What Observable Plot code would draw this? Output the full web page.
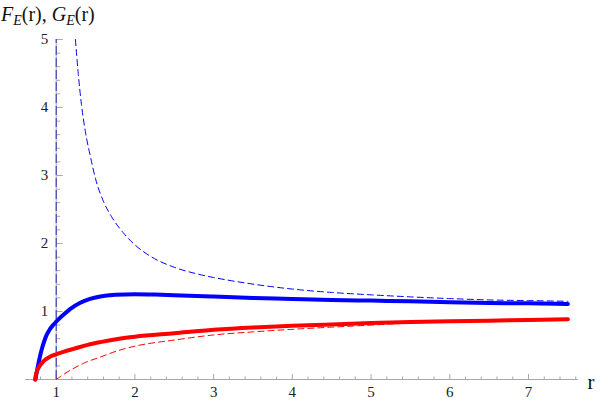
<!DOCTYPE html>
<html>
<head>
<meta charset="utf-8">
<script src="https://cdn.jsdelivr.net/npm/d3@7"></script>
<script src="https://cdn.jsdelivr.net/npm/@observablehq/plot@0.6"></script>
<style>
  html, body { margin: 0; padding: 0; background: #fff; }
  #chart { position: relative; width: 600px; height: 403px; }
</style>
</head>
<body>
<div id="chart"></div>
<script>
// ---- data ----
const gSolidR = [0.735, 0.76, 0.79, 0.82, 0.85, 0.88, 0.92, 0.96, 1.0, 1.08, 1.18, 1.3, 1.43, 1.56, 1.75, 2.0, 2.25, 2.5, 3.0, 3.5, 4.0, 4.5, 5.0, 5.5, 6.0, 6.5, 7.0, 7.5];
const gSolidV = [0, 0.15, 0.32, 0.46, 0.57, 0.66, 0.74, 0.8, 0.85, 0.94, 1.04, 1.125, 1.185, 1.22, 1.245, 1.255, 1.25, 1.24, 1.22, 1.2, 1.185, 1.17, 1.16, 1.15, 1.135, 1.125, 1.12, 1.11];

const fSolidR = [0.735, 0.738, 0.745, 0.755, 0.77, 0.79, 0.82, 0.86, 0.9, 0.95, 1.0, 1.1, 1.22, 1.4, 1.56, 1.8, 2.0, 2.5, 3.0, 3.5, 4.0, 4.5, 5.0, 5.5, 6.0, 6.5, 7.0, 7.5];
const fSolidV = [0, 0.04, 0.08, 0.12, 0.16, 0.2, 0.245, 0.29, 0.32, 0.35, 0.37, 0.41, 0.45, 0.51, 0.55, 0.6, 0.63, 0.68, 0.73, 0.765, 0.79, 0.81, 0.83, 0.845, 0.855, 0.865, 0.875, 0.885];

const fDashR = [1.0, 1.05, 1.1, 1.2, 1.35, 1.56, 1.8, 2.0, 2.5, 3.0, 3.5, 4.1, 4.5, 5.0, 5.5, 6.0, 6.5, 7.0, 7.5];
const fDashV = [0, 0.04, 0.08, 0.15, 0.24, 0.33, 0.43, 0.49, 0.58, 0.655, 0.7, 0.745, 0.77, 0.8, 0.83, 0.845, 0.86, 0.87, 0.88];

const gDashR = [1.244, 1.28, 1.32, 1.37, 1.44, 1.5, 1.6, 1.7, 1.85, 2.0, 2.2, 2.5, 2.8, 3.0, 3.4, 4.0, 4.5, 5.0, 5.5, 6.0, 6.5, 7.0, 7.5];
const gDashV = [5.0, 4.5, 4.05, 3.65, 3.25, 2.95, 2.62, 2.4, 2.16, 1.98, 1.81, 1.65, 1.55, 1.5, 1.42, 1.33, 1.28, 1.245, 1.215, 1.19, 1.17, 1.16, 1.15];

const xMajor = [1, 2, 3, 4, 5, 6, 7];
const xMinor = [0.8, 1.2, 1.4, 1.6, 1.8, 2.2, 2.4, 2.6, 2.8, 3.2, 3.4, 3.6, 3.8, 4.2, 4.4, 4.6, 4.8, 5.2, 5.4, 5.6, 5.8, 6.2, 6.4, 6.6, 6.8, 7.2, 7.4, 7.6];
const yMajor = [1, 2, 3, 4, 5];
const yMinor = [0.2, 0.4, 0.6, 0.8, 1.2, 1.4, 1.6, 1.8, 2.2, 2.4, 2.6, 2.8, 3.2, 3.4, 3.6, 3.8, 4.2, 4.4, 4.6, 4.8];
const xLabel = "r";

// ---- build ----
const zip = (xs, ys) => xs.map((x, i) => ({r: x, v: ys[i]}));
const gSolid = zip(gSolidR, gSolidV);
const fSolid = zip(fSolidR, fSolidV);
const fDash = zip(fDashR, fDashV);
const gDash = zip(gDashR, gDashV);

// tick glyphs drawn as dot symbols (length = r)
const tickUp = {draw(ctx, size) { const l = Math.sqrt(size / Math.PI); ctx.moveTo(0, 0); ctx.lineTo(0, -l); }};
const tickRight = {draw(ctx, size) { const l = Math.sqrt(size / Math.PI); ctx.moveTo(0, 0); ctx.lineTo(l, 0); }};

const axisGray = "#a8a8a8";
const font = "Liberation Serif, DejaVu Serif, serif";

const plot = Plot.plot({
  width: 600,
  height: 403,
  marginLeft: 25,
  marginRight: 22,
  marginTop: 39,
  marginBottom: 24,
  style: {background: "#fff"},
  x: {domain: [0.61, 7.635], axis: null},
  y: {domain: [0, 5], axis: null},
  marks: [
    // x axis
    Plot.ruleY([0], {stroke: axisGray, strokeWidth: 1}),
    Plot.dot(xMinor, {x: d => d, y: 0, symbol: tickUp, r: 3, stroke: axisGray, strokeWidth: 1, fill: "none"}),
    Plot.dot(xMajor, {x: d => d, y: 0, symbol: tickUp, r: 5.5, stroke: axisGray, strokeWidth: 1, fill: "none"}),
    Plot.text(xMajor, {x: d => d, y: 0, text: d => String(d), dy: 13, lineAnchor: "middle", fontSize: 15, fill: "#222"}),
    // y axis at r = 1
    Plot.ruleX([1], {y1: 0, y2: 5, stroke: axisGray, strokeWidth: 1}),
    Plot.dot(yMinor, {x: 1, y: d => d, symbol: tickRight, r: 4, stroke: axisGray, strokeWidth: 1, fill: "none"}),
    Plot.dot(yMajor, {x: 1, y: d => d, symbol: tickRight, r: 6.5, stroke: axisGray, strokeWidth: 1, fill: "none"}),
    Plot.ruleX([1], {y1: 0, y2: 5, stroke: "#2a2ab8", strokeWidth: 1, strokeDasharray: "9,3"}),
    Plot.text(yMajor, {x: 1, y: d => d, text: d => String(d), dx: -8, textAnchor: "end", lineAnchor: "middle", fontSize: 15, fill: "#222"}),
    // curves
    Plot.line(gSolid, {x: "r", y: "v", stroke: "#0000ff", strokeWidth: 4, curve: "monotone-x"}),
    Plot.line(fSolid, {x: "r", y: "v", stroke: "#ff0000", strokeWidth: 4, curve: "monotone-x"}),
    Plot.line(gDash, {x: "r", y: "v", stroke: "#0000ff", strokeWidth: 1, strokeDasharray: "6,4", curve: "monotone-x"}),
    Plot.line(fDash, {x: "r", y: "v", stroke: "#ff0000", strokeWidth: 1, strokeDasharray: "6,4", curve: "monotone-x"}),
    // axis label
    Plot.text([xLabel], {frameAnchor: "bottom-right", text: d => d, dx: 9, dy: 3, textAnchor: "start", lineAnchor: "middle", fontSize: 21, fill: "#111"})
  ]
});

const svg = d3.select(plot);
// serif font for every text (inline style wins over Plot's stylesheet)
svg.selectAll("text").style("font-family", font);

// title with subscripts
const t = svg.append("text")
  .attr("x", 1).attr("y", 21)
  .attr("text-anchor", "start")
  .style("text-anchor", "start")
  .style("font-family", font).style("font-size", "20px").attr("fill", "#111");
t.append("tspan").style("font-style", "italic").text("F");
t.append("tspan").style("font-style", "italic").style("font-size", "14px").attr("dy", 4).text("E");
t.append("tspan").attr("dy", -4).text("(r), ");
t.append("tspan").style("font-style", "italic").text("G");
t.append("tspan").style("font-style", "italic").style("font-size", "14px").attr("dy", 4).text("E");
t.append("tspan").attr("dy", -4).text("(r)");

document.getElementById("chart").appendChild(plot);
</script>
</body>
</html>
